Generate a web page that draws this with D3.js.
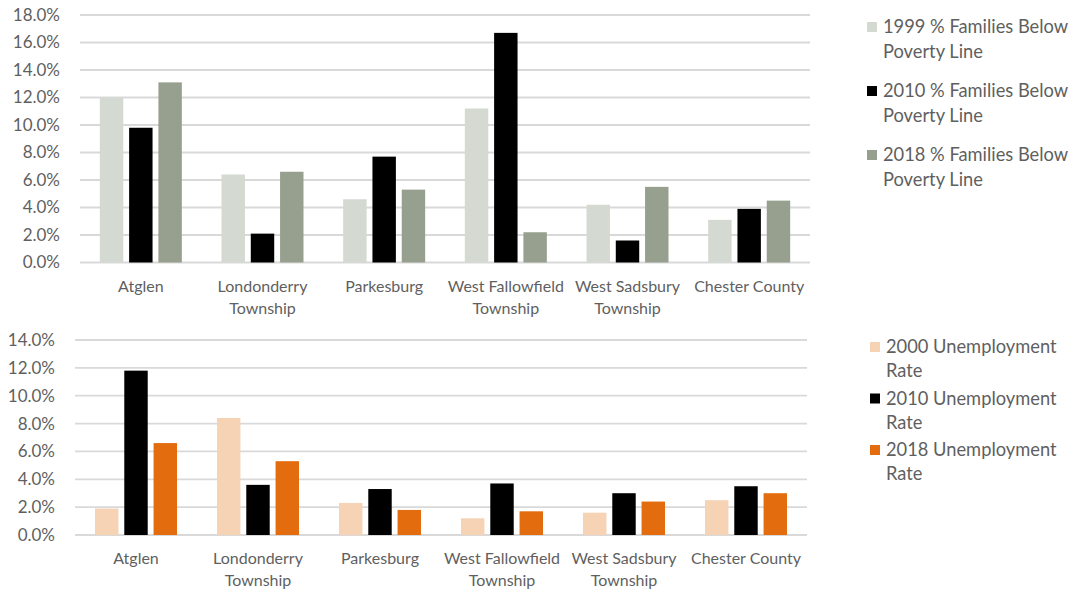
<!DOCTYPE html>
<html>
<head>
<meta charset="utf-8">
<script src="https://cdn.jsdelivr.net/npm/d3@7"></script>
<style>
  body { margin: 0; background: #fff; }
  text { font-family: Lato, "Open Sans", sans-serif; fill: #5f5f5f; }
</style>
</head>
<body>
<div id="chart"></div>
<script>
// categories shared by both charts
const places = ["Atglen", "Londonderry Township", "Parkesburg", "West Fallowfield Township", "West Sadsbury Township", "Chester County"];

// poverty (%)
const povertyNames = ["1999 % Families Below Poverty Line", "2010 % Families Below Poverty Line", "2018 % Families Below Poverty Line"];
const poverty1999 = [12.0, 6.4, 4.6, 11.2, 4.2, 3.1];
const poverty2010 = [9.8, 2.1, 7.7, 16.7, 1.6, 3.9];
const poverty2018 = [13.1, 6.6, 5.3, 2.2, 5.5, 4.5];
const povertyTicks = [0, 2, 4, 6, 8, 10, 12, 14, 16, 18];

// unemployment (%)
const unempNames = ["2000 Unemployment Rate", "2010 Unemployment Rate", "2018 Unemployment Rate"];
const unemp2000 = [1.9, 8.4, 2.3, 1.2, 1.6, 2.5];
const unemp2010 = [11.8, 3.6, 3.3, 3.7, 3.0, 3.5];
const unemp2018 = [6.6, 5.3, 1.8, 1.7, 2.4, 3.0];
const unempTicks = [0, 2, 4, 6, 8, 10, 12, 14];

const svg = d3.select("#chart").append("svg")
    .attr("width", 1078)
    .attr("height", 592);

// wrap category text at given length
function wrapLines(str, maxChars){
    let words = str.split(" "), lines = [], cur = "";
    words.forEach(w => {
        if(cur && (cur + " " + w).length > maxChars){ lines.push(cur); cur = w; }
        else cur = cur ? cur + " " + w : w;
    });
    if(cur) lines.push(cur);
    return lines;
}

function drawChart(opt){
    let g = svg.append("g");
    let y = d3.scaleLinear().domain([0, d3.max(opt.ticks)]).range([opt.bottom, opt.top]);
    let x = d3.scaleBand().domain(places).range([opt.left, opt.right]);
    let xs = d3.scaleBand().domain([0, 1, 2]).range([0, 82]).paddingInner(0.2);

    // gridlines
    g.append("g").selectAll("line")
        .data(opt.ticks)
        .enter().append("line")
            .attr("x1", opt.left).attr("x2", opt.right)
            .attr("y1", d => y(d)).attr("y2", d => y(d))
            .attr("stroke", "#d9d9d9")
            .attr("stroke-width", 1.8);

    // y labels
    g.append("g").selectAll("text")
        .data(opt.ticks)
        .enter().append("text")
            .attr("x", opt.left - 20)
            .attr("y", d => y(d))
            .attr("dy", "0.35em")
            .attr("text-anchor", "end")
            .style("font-size", "17px")
            .text(d => d.toFixed(1) + "%");

    // bars
    opt.series.forEach((vals, si) => {
        g.append("g").selectAll("rect")
            .data(vals)
            .enter().append("rect")
                .attr("x", (d, i) => x(places[i]) + x.bandwidth()/2 - 41 + xs(si))
                .attr("y", d => y(d))
                .attr("width", xs.bandwidth())
                .attr("height", d => y(0) - y(d))
                .attr("fill", opt.colors[si]);
    });

    // category labels
    places.forEach(p => {
        let lines = wrapLines(p, 17);
        let t = g.append("text")
            .attr("x", x(p) + x.bandwidth()/2)
            .attr("y", opt.bottom + 29)
            .attr("text-anchor", "middle")
            .style("font-size", "16px");
        lines.forEach((l, i) => {
            t.append("tspan")
                .attr("x", x(p) + x.bandwidth()/2)
                .attr("dy", i == 0 ? 0 : 22)
                .text(l);
        });
    });

    // legend
    opt.names.forEach((n, i) => {
        let ly = opt.legendTop + i * opt.legendStep;
        g.append("rect")
            .attr("x", opt.legendX)
            .attr("y", ly - 5)
            .attr("width", 10).attr("height", 10)
            .attr("fill", opt.colors[i]);
        let t = g.append("text")
            .attr("x", opt.legendX + 16)
            .attr("y", ly)
            .style("font-size", "18.3px");
        opt.legendLines(n).forEach((l, j) => {
            t.append("tspan")
                .attr("x", opt.legendX + 16)
                .attr("dy", j == 0 ? "0.35em" : opt.lineH)
                .text(l);
        });
    });
}

drawChart({
    series: [poverty1999, poverty2010, poverty2018],
    names: povertyNames,
    colors: ["#d4d9d1", "#000000", "#97a08f"],
    ticks: povertyTicks,
    top: 15, bottom: 262.5, left: 80, right: 810,
    legendX: 867, legendTop: 27, legendStep: 64, lineH: 25,
    legendLines: n => [n.replace(" Poverty Line", ""), "Poverty Line"]
});

drawChart({
    series: [unemp2000, unemp2010, unemp2018],
    names: unempNames,
    colors: ["#f6d3b5", "#000000", "#e36c0e"],
    ticks: unempTicks,
    top: 340, bottom: 535, left: 75, right: 807,
    legendX: 870, legendTop: 347, legendStep: 51.5, lineH: 24,
    legendLines: n => [n.replace(" Rate", ""), "Rate"]
});
</script>
</body>
</html>
